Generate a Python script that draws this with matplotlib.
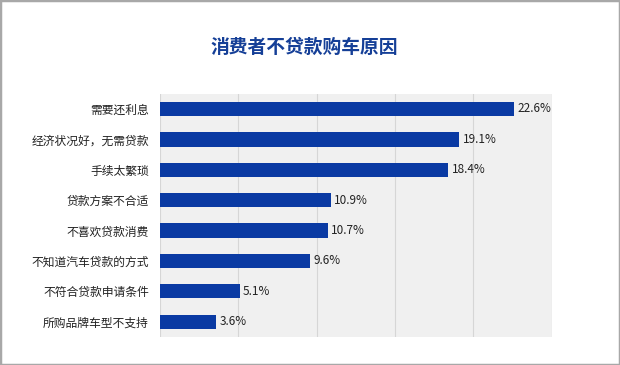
import matplotlib.pyplot as plt
from matplotlib.patches import Rectangle

plt.rcParams['font.family'] = ['Noto Sans CJK SC', 'DejaVu Sans']

# 数据
reasons = ['需要还利息', '经济状况好，无需贷款', '手续太繁琐', '贷款方案不合适',
           '不喜欢贷款消费', '不知道汽车贷款的方式', '不符合贷款申请条件', '所购品牌车型不支持']
shares = [22.6, 19.1, 18.4, 10.9, 10.7, 9.6, 5.1, 3.6]
grid_ticks = [0, 5, 10, 15, 20, 25]

bar_color = '#0a3aa3'
title_color = '#153f97'

fig = plt.figure(figsize=(6.2, 3.65), dpi=100)
fig.patch.set_facecolor('white')

ax = fig.add_axes([0.258, 0.077, 0.632, 0.666])
ax.set_facecolor('#f0f0f0')

ypos = list(range(len(reasons)))
ax.barh(ypos, shares, height=0.47, color=bar_color, zorder=3)
for y, v in zip(ypos, shares):
    ax.text(v + 0.2, y, f'{v}%', ha='left', va='center', fontsize=8.5,
            color='#222222', zorder=4)

ax.set_xlim(0, 25)
ax.set_ylim(len(reasons) - 0.5, -0.5)
ax.set_xticks(grid_ticks)
ax.xaxis.grid(True, color='#d6d6d6', linewidth=0.8, zorder=0)
ax.tick_params(axis='x', length=0, labelbottom=False)
ax.tick_params(axis='y', length=0, pad=8, labelsize=8.5, labelcolor='#222222')
ax.set_yticks(ypos)
ax.set_yticklabels(reasons)
for s in ax.spines.values():
    s.set_visible(False)

fig.text(0.49, 0.87, '消费者不贷款购车原因', ha='center', va='center',
         fontsize=13.5, fontweight='bold', color=title_color)

# 外框
fig.patches.append(Rectangle((0, 0), 1, 1, transform=fig.transFigure,
                             fill=False, edgecolor='#a8a8a8', linewidth=2.5))

fig.savefig('out.png', dpi=100)
